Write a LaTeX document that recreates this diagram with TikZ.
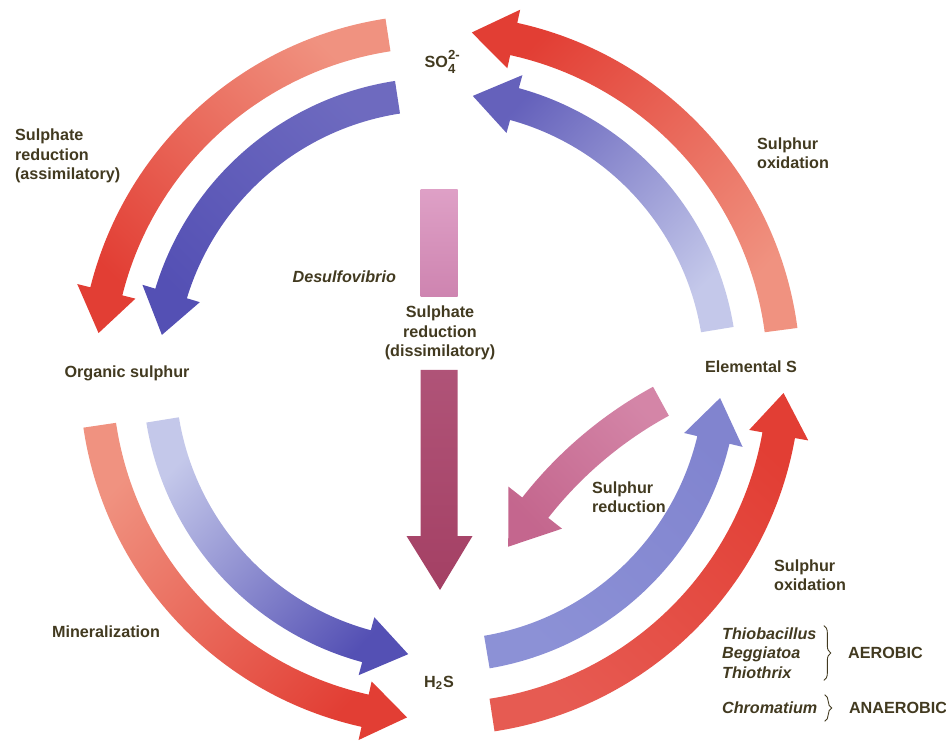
\documentclass[tikz,border=0pt]{standalone}
\usepackage{fontspec}
\setmainfont{Liberation Sans}
\usetikzlibrary{positioning,decorations.pathreplacing}
\definecolor{redhead}{RGB}{226,62,52}
\definecolor{redtail}{RGB}{240,146,128}
\definecolor{bluedark}{RGB}{84,80,180}
\definecolor{bluelight}{RGB}{196,200,234}
\definecolor{bluemid}{RGB}{140,145,214}
\definecolor{pinktop}{RGB}{222,160,198}
\definecolor{pinkbot}{RGB}{206,132,176}
\definecolor{maroon}{RGB}{164,64,100}
\definecolor{mauve}{RGB}{204,112,152}
\definecolor{labelc}{RGB}{66,58,32}
\newcommand\bandw{0.33}
\newcommand\headw{0.6}
\newcommand\headlen{0.85}
% curved band arrow: {shade opts}{centre}{tail angle}{tip angle}{radius}
\newcommand\cyclearrow[5]{%
  \pgfmathsetmacro\headang{#4-\headlen/#5*180/pi}%
  \pgfmathsetmacro\shadeang{atan2(sin(#3)-sin(#4),cos(#3)-cos(#4))-90}%
  \begin{scope}[shift={(#2)}]
  \shade[#1,shading angle=\shadeang]
    (#3:{#5+\bandw}) arc[start angle=#3,end angle=\headang,radius={#5+\bandw}]
    -- (\headang:{#5+\headw}) -- (#4:#5) -- (\headang:{#5-\headw})
    -- (\headang:{#5-\bandw}) arc[start angle=\headang,end angle=#3,radius={#5-\bandw}]
    -- cycle;
  \end{scope}}
% sulphate ion with stacked charge and index
\newcommand\sulphate{SO\rlap{\raisebox{4.6pt}{\fontsize{7.5}{8}\selectfont 2-}}\raisebox{-3.6pt}{\fontsize{7.5}{8}\selectfont 4}}

\begin{document}
\begin{tikzpicture}[
  lbl/.style={font=\bfseries\fontsize{9.2}{11}\selectfont, text=labelc, inner sep=1pt, align=left},
  bug/.style={lbl, font=\bfseries\itshape\fontsize{9.2}{11}\selectfont},
  brc/.style={decorate, decoration={brace, amplitude=4pt}, labelc, line width=0.5pt}]
\useasboundingbox (0,0) rectangle (18.92,14.84);
\coordinate (O) at (8.8,7.34);
\coordinate (R) at (17.12,-0.34);

% outer ring
\cyclearrow{top color=redtail, bottom color=redhead}{O}{98.7}{173}{6.88}
\cyclearrow{top color=redtail, bottom color=redhead}{O}{188.4}{264.5}{6.88}
\cyclearrow{top color=redhead!85!white, bottom color=redhead}{O}{278.7}{357}{6.88}
\cyclearrow{top color=redtail, bottom color=redhead}{O}{7.5}{84.7}{6.88}
% inner ring
\cyclearrow{top color=bluedark!85!white, bottom color=bluedark}{O}{98.7}{171.8}{5.62}
\cyclearrow{top color=bluelight, bottom color=bluedark}{O}{189.2}{263.5}{5.62}
\cyclearrow{top color=bluemid, middle color=bluelight, bottom color=bluemid!80!bluedark}{O}{279.6}{355.3}{5.62}
\cyclearrow{top color=bluelight, bottom color=bluedark!90!white}{O}{9.3}{83.3}{5.62}
% sulphur reduction
{\renewcommand\headlen{0.95}\renewcommand\headw{0.68}
\cyclearrow{top color=mauve!85!white, bottom color=mauve!80!maroon}{R}{118.6}{148.6}{8.15}}
% dissimilatory reduction
\shade[top color=pinktop, bottom color=pinkbot] (8.41,8.9) rectangle (9.15,11.04);
\shade[top color=maroon!80!pinktop, bottom color=maroon]
  (8.41,7.44) -- (9.15,7.44) -- (9.15,4.12) -- (9.45,4.12) -- (8.8,3.04)
  -- (8.13,4.12) -- (8.41,4.12) -- cycle;

\node[lbl] (so4) at (8.8,13.6) {\sulphate};
\node[lbl] (orgs) at (2.54,7.38) {Organic sulphur};
\node[lbl] (h2s) at (8.78,1.18) {H\textsubscript{2}S};
\node[lbl] (elem) at (15.02,7.5) {Elemental S};

\node[lbl, anchor=west] (sar) at (0.26,11.72) {Sulphate\\reduction\\(assimilatory)};
\node[bug, anchor=east] (desulfo) at (7.96,9.3) {Desulfovibrio};
\node[lbl, align=center] (srd) at (8.8,8.18) {Sulphate\\reduction\\(dissimilatory)};
\node[lbl, anchor=west] (sox1) at (15.1,11.78) {Sulphur\\oxidation};
\node[lbl, anchor=west] (miner) at (1.0,2.2) {Mineralization};
\node[lbl, anchor=west] (sred) at (11.8,4.9) {Sulphur\\reduction};
\node[lbl, anchor=west] (sox2) at (15.44,3.34) {Sulphur\\oxidation};

\node[bug, anchor=west] (thio) at (14.4,1.78) {Thiobacillus\\Beggiatoa\\Thiothrix};
\node[bug, anchor=west] (chrom) at (14.4,0.68) {Chromatium};
\node[lbl, right=0.55cm of thio] (aer) {AEROBIC};
\node[lbl, right=0.55cm of chrom] (anaer) {ANAEROBIC};
\draw[brc] ([xshift=3pt]thio.north east) -- ([xshift=3pt]thio.south east);
\draw[brc] ([xshift=3pt,yshift=3pt]chrom.north east) -- ([xshift=3pt,yshift=-3pt]chrom.south east);
\end{tikzpicture}
\end{document}
